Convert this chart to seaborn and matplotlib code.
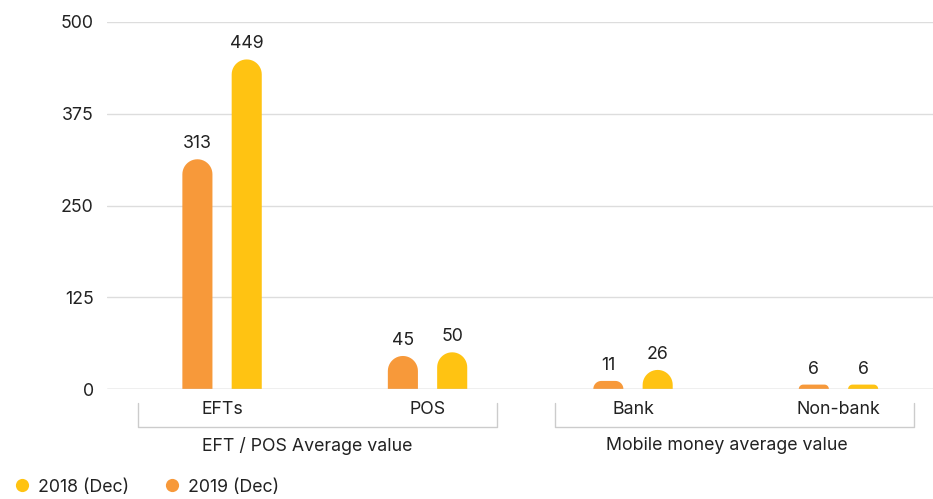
import matplotlib
matplotlib.use("Agg")
import matplotlib.pyplot as plt
import seaborn as sns
import pandas as pd
import numpy as np
from matplotlib.path import Path
from matplotlib.patches import PathPatch
from matplotlib.lines import Line2D
import matplotlib.transforms as mtransforms

categories = ["EFTs", "POS", "Bank", "Non-bank"]
groups = ["EFT / POS Average value", "Mobile money average value"]
group_spans = [(-0.409, 1.338), (1.620, 3.367)]
group_label_x = [0.414, 2.457]
series_2019 = [313, 45, 11, 6]
series_2018 = [449, 50, 26, 6]
series_names = ["2019 (Dec)", "2018 (Dec)"]
colors = {"2019 (Dec)": "#F7993A", "2018 (Dec)": "#FFC312"}
yticks = [0, 125, 250, 375, 500]

sns.set_theme(style="white")
plt.rcParams['font.family'] = ['Inter', 'DejaVu Sans']
TXT = "#222222"
FS = 12.8

df = pd.DataFrame({
    "category": categories * 2,
    "series": [series_names[0]] * 4 + [series_names[1]] * 4,
    "value": series_2019 + series_2018,
})

W, H = 933, 499
fig = plt.figure(figsize=(W / 100, H / 100), dpi=100)
ax_l, ax_r, ax_t, ax_b = 107, 933, 22, 389
ax = fig.add_axes([ax_l / W, 1 - ax_b / H, (ax_r - ax_l) / W, (ax_b - ax_t) / H])

sns.barplot(data=df, x="category", y="value", hue="series", hue_order=series_names,
            order=categories, palette=colors, width=0.48, gap=0.39, ax=ax,
            legend=False, errorbar=None, saturation=1)

ax.set_xlim(-0.56, 3.46)
ax.set_ylim(0, 500)
ax.set_yticks(yticks)
ax.set_yticklabels([str(t) for t in yticks], fontsize=FS, color=TXT)
ax.grid(axis="y", color="#dddddd", linewidth=1)
ax.set_axisbelow(True)
for s in ax.spines.values():
    s.set_visible(False)
ax.tick_params(axis="y", length=0, pad=9.5)
ax.tick_params(axis="x", length=0, pad=8.5, labelsize=FS, labelcolor=TXT)
for lab in ax.get_xticklabels():
    lab.set_x(lab.get_position()[0])
ax.set_xlabel("")
ax.set_ylabel("")

fig.canvas.draw()
p0 = ax.transData.transform((0, 0))
p1 = ax.transData.transform((1, 1))
sx = p1[0] - p0[0]
sy = p1[1] - p0[1]
R_PX = 15

bars = list(ax.patches)
for b in bars:
    x0 = b.get_x(); w = b.get_width(); h = b.get_height()
    fc = b.get_facecolor()
    b.remove()
    if h <= 0:
        continue
    h_px = h * sy
    r_px = min(R_PX, h_px, w * sx / 2)
    rx = r_px / sx
    ry = r_px / sy
    x1 = x0 + w
    verts = [(x0, 0), (x1, 0), (x1, h - ry)]
    codes = [Path.MOVETO, Path.LINETO, Path.LINETO]
    th = np.linspace(0, np.pi / 2, 12)
    for t in th:
        verts.append((x1 - rx + rx * np.cos(t), h - ry + ry * np.sin(t)))
        codes.append(Path.LINETO)
    for t in th:
        verts.append((x0 + rx - rx * np.sin(t), h - ry + ry * np.cos(t)))
        codes.append(Path.LINETO)
    verts.append((x0, 0))
    codes.append(Path.CLOSEPOLY)
    ax.add_patch(PathPatch(Path(verts, codes), facecolor=fc, edgecolor="none", zorder=3))
    ax.annotate(f"{h:.0f}", (x0 + w / 2, h), xytext=(0, 5), textcoords="offset points",
                ha="center", va="bottom", fontsize=FS, color=TXT, clip_on=False)

ax.axhline(0, color="#cccccc", linewidth=1, zorder=4)

trans = mtransforms.blended_transform_factory(ax.transData, ax.transAxes)
y_top = (ax_b - 403) / (ax_b - ax_t)
y_bot = (ax_b - 427) / (ax_b - ax_t)
y_lab = (ax_b - 446) / (ax_b - ax_t)
for g, (a, bb), lx in zip(groups, group_spans, group_label_x):
    ax.plot([a, a, bb, bb], [y_top, y_bot, y_bot, y_top],
            transform=trans, color="#cccccc", linewidth=1, clip_on=False)
    ax.text(lx, y_lab, g, transform=trans, ha="center", va="center", fontsize=FS, color=TXT)

handles = [Line2D([], [], marker="o", linestyle="none", markersize=9.5,
                  markerfacecolor=colors[n], markeredgecolor="none") for n in ["2018 (Dec)", "2019 (Dec)"]]
fig.legend(handles, ["2018 (Dec)", "2019 (Dec)"], loc="center left",
           bbox_to_anchor=(10 / W, 1 - 487 / H), ncol=2, frameon=False, fontsize=FS,
           handletextpad=0.25, columnspacing=1.78, borderaxespad=0.0, borderpad=0.0,
           handlelength=1.3, labelcolor=TXT)

fig.savefig("out.png", dpi=100)
